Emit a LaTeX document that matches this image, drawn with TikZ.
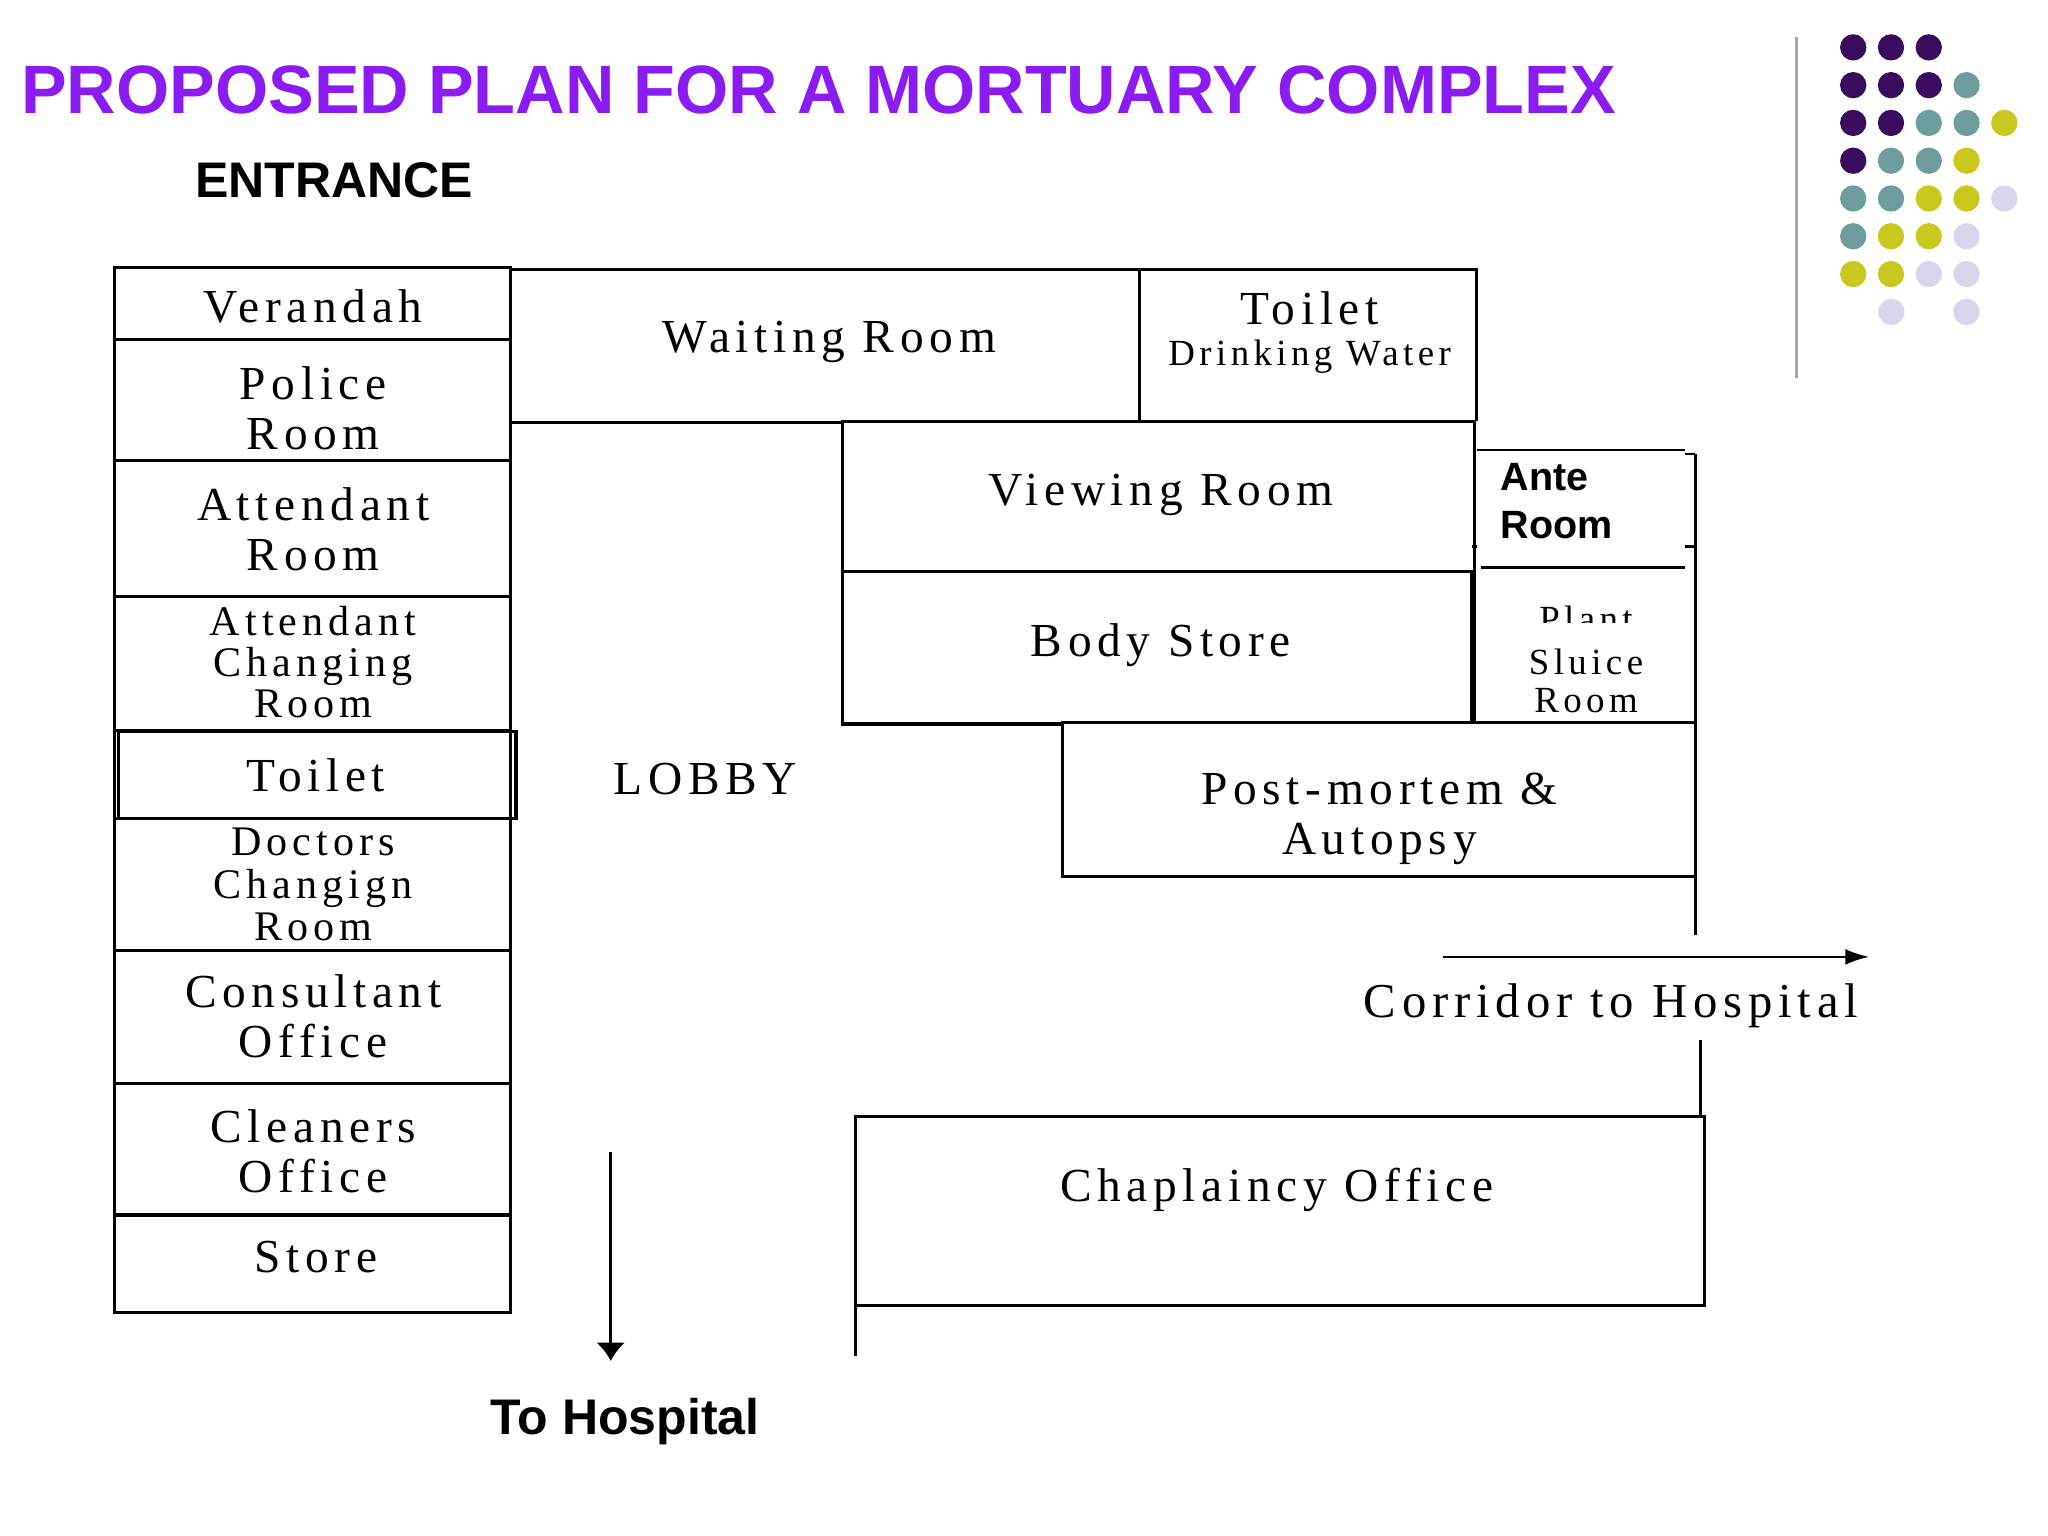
\documentclass[tikz,border=0pt]{standalone}
\usepackage{fontspec}
\usetikzlibrary{arrows.meta}
\setmainfont{Liberation Serif}
\newfontfamily\plan{Liberation Serif}[LetterSpace=12]
\newfontfamily\hd{Liberation Sans}
\definecolor{ttl}{HTML}{8A1CF2}
\definecolor{dp}{HTML}{3A0C5E}
\definecolor{dt}{HTML}{6E9E9C}
\definecolor{dy}{HTML}{C8C81E}
\definecolor{dl}{HTML}{D9D5EA}
\begin{document}
\begin{tikzpicture}[x=1pt,y=-1pt,
  wall/.style={line width=2.5pt},
  lbl/.style={font=\plan\fontsize{36}{38}\selectfont,align=center,inner sep=0pt},
  sm/.style={font=\plan\fontsize{28}{29}\selectfont,align=center,inner sep=0pt},
  bold/.style={font=\hd\bfseries\fontsize{38}{40}\selectfont,inner sep=0pt,align=left}]
\useasboundingbox (0,0) rectangle (1556,1167);
\node[font=\hd\bfseries\fontsize{52}{56}\selectfont,text=ttl,anchor=west,inner sep=0pt] (title) at (16,68) {PROPOSED PLAN FOR A MORTUARY COMPLEX};
\node[bold,anchor=west] (ent) at (148,137) {ENTRANCE};
% left column
\draw[wall] (87,203) rectangle (388,997);
\foreach \y in {258,350,453,555,622,722,823,923} \draw[wall] (87,\y) -- (388,\y);
\draw[wall] (90,556) rectangle (392,622);
\node[lbl] (v) at (238,233) {Verandah};
\node[lbl] (p) at (238,310) {Police\\Room};
\node[lbl] (a) at (238,402) {Attendant\\Room};
\node[lbl,font=\plan\fontsize{32}{31}\selectfont] (ac) at (238,503) {Attendant\\Changing\\Room};
\node[lbl] (t) at (240,589) {Toilet};
\node[lbl,font=\plan\fontsize{32}{32}\selectfont] (dc) at (238,672) {Doctors\\Changign\\Room};
\node[lbl] (co) at (238,772) {Consultant\\Office};
\node[lbl] (cl) at (238,875) {Cleaners\\Office};
\node[lbl] (st) at (240,955) {Store};
% top
\draw[wall] (388,205) -- (1122,205) -- (1122,320);
\draw[wall] (388,321) -- (640,321);
\draw[wall] (866,205) -- (866,320);
\node[lbl] (w) at (630,260) {Waiting Room};
\node[lbl] (tl) at (995,234) {Toilet};
\node[sm] (dw) at (995,271) {Drinking Water};
% viewing / body store
\draw[wall] (640,320) rectangle (1120,434);
\draw[wall] (640,434) -- (640,550) -- (807,550);
\draw[wall] (1118,434) -- (1118,550);
\node[lbl] (vr) at (882,376) {Viewing Room};
\node[lbl] (bs) at (882,490) {Body Store};
% ante / sluice
\draw[wall] (1120,345) -- (1120,548);
\draw[line width=2pt] (1122,342) -- (1280,342);
\draw[wall] (1288,345) -- (1288,710);
\draw[line width=2pt] (1280,345) -- (1288,345) (1280,415) -- (1288,415) (1118,415)--(1122,415);
\draw[line width=2pt] (1125,431) -- (1280,431);
\node[bold,font=\hd\bfseries\fontsize{30}{36}\selectfont,anchor=north west] (ar) at (1140,352) {Ante\\Room};
\begin{scope}
\clip (1130,455) rectangle (1280,473);
\node[sm] (pl) at (1205,470) {Plant};
\end{scope}
\node[sm] (sl) at (1205,517) {Sluice\\Room};
% post-mortem
\draw[wall] (807,549) rectangle (1288,666);
\node[lbl] (pm) at (1048,622) {Post-mortem \&\\Autopsy};
\node[lbl] (lob) at (536,592) {LOBBY};
% corridor
\coordinate (c1) at (1096,727); \coordinate (c2) at (1420,727);
\draw[line width=1.5pt,-{Latex[length=18pt,width=12pt]}] (c1) -- (c2);
\node[lbl,font=\plan\fontsize{37}{38}\selectfont] (cor) at (1224,764) {Corridor to Hospital};
\draw[wall] (1292,790) -- (1292,848);
% chaplaincy
\draw[wall] (650,848) rectangle (1295,992);
\draw[wall] (650,992) -- (650,1030);
\node[lbl] (ch) at (970,904) {Chaplaincy Office};
% to hospital
\coordinate (h1) at (464,875); \coordinate (h2) at (464,1034);
\draw[line width=2pt,-{Latex[length=14pt,width=22pt]}] (h1) -- (h2);
\node[bold] (th) at (475,1080) {To Hospital};
% decoration
\draw[gray!70,line width=2pt] (1365,28) -- (1365,287);
\foreach \r/\cs in {0/{dp,dp,dp},1/{dp,dp,dp,dt},2/{dp,dp,dt,dt,dy},3/{dp,dt,dt,dy},4/{dt,dt,dy,dy,dl},5/{dt,dy,dy,dl},6/{dy,dy,dl,dl}}{
  \foreach \c [count=\i from 0] in \cs {
    \fill[\c] ({1408+28.7*\i},{36+28.7*\r}) circle (10);
  }}
\fill[dl] (1437,237) circle (10) (1494,237) circle (10);
\end{tikzpicture}
\end{document}
